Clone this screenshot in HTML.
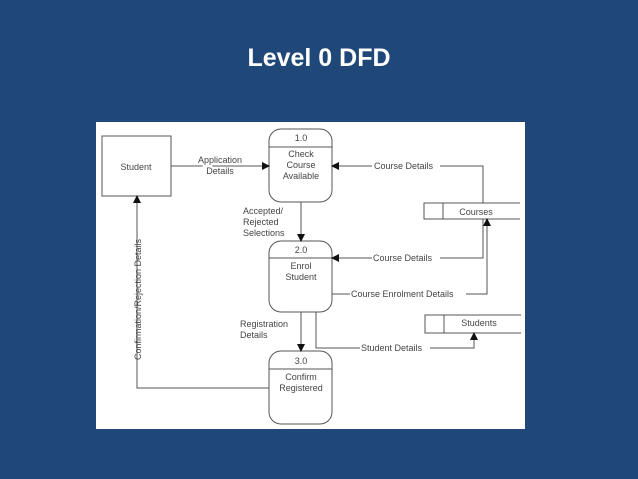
<!DOCTYPE html>
<html><head><style>
body{margin:0;width:638px;height:479px;background:#1f4878;overflow:hidden;font-family:"Liberation Sans",sans-serif}
h1{position:absolute;top:44px;left:0;width:638px;text-align:center;margin:0;color:#fff;font-size:25px;font-weight:bold}
svg{position:absolute;left:0;top:0}
text{font-family:"Liberation Sans",sans-serif;font-size:9px;fill:#444}
</style></head><body>
<h1>Level 0 DFD</h1>
<svg width="638" height="479">
<defs><marker id="a" markerWidth="8" markerHeight="8" refX="7" refY="4" orient="auto" markerUnits="userSpaceOnUse"><path d="M0,0L8,4L0,8z" fill="#111"/></marker></defs>
<rect x="96" y="122" width="429" height="307" fill="#fff"/>
<g stroke="#555" stroke-width="1" fill="none">
<rect x="102" y="136" width="69" height="60"/>
<rect x="269" y="129" width="63" height="73" rx="12"/><line x1="269" y1="147" x2="332" y2="147"/>
<rect x="269" y="241" width="63" height="71" rx="12"/><line x1="269" y1="258" x2="332" y2="258"/>
<rect x="269" y="351" width="63" height="73" rx="12"/><line x1="269" y1="369" x2="332" y2="369"/>
<path d="M520,203H424V219H520M443,203V219"/>
<path d="M521,315H425V333H521M444,315V333"/>
<path d="M171,166H269" marker-end="url(#a)"/>
<path d="M483,203V166H332" marker-end="url(#a)"/>
<path d="M483,219V258H332" marker-end="url(#a)"/>
<path d="M332,294H487V219" marker-end="url(#a)"/>
<path d="M316,312V348H474V333" marker-end="url(#a)"/>
<path d="M301,202V241" marker-end="url(#a)"/>
<path d="M301,312V351" marker-end="url(#a)"/>
<path d="M269,388H137V196" marker-end="url(#a)"/>
</g>
<g text-anchor="middle">
<text x="136" y="170">Student</text>
<text x="301" y="141">1.0</text><text x="301" y="157">Check</text><text x="301" y="168">Course</text><text x="301" y="179">Available</text>
<text x="301" y="253">2.0</text><text x="301" y="269">Enrol</text><text x="301" y="280">Student</text>
<text x="301" y="364">3.0</text><text x="301" y="380">Confirm</text><text x="301" y="391">Registered</text>
<text x="220" y="163" fill="#fff" stroke="#fff" stroke-width="4">Application</text>
<text x="220" y="163">Application</text><text x="220" y="174">Details</text>
<text x="476" y="215">Courses</text><text x="479" y="326">Students</text>
</g>
<g>
<rect x="372" y="160" width="68" height="10" fill="#fff"/><text x="374" y="169">Course Details</text>
<rect x="372" y="252" width="68" height="10" fill="#fff"/><text x="373" y="261">Course Details</text>
<rect x="350" y="288" width="116" height="10" fill="#fff"/><text x="351" y="297">Course Enrolment Details</text>
<rect x="360" y="342" width="70" height="10" fill="#fff"/><text x="361" y="351">Student Details</text>
<text x="243" y="214">Accepted/</text><text x="243" y="225">Rejected</text><text x="243" y="236">Selections</text>
<text x="240" y="327">Registration</text><text x="240" y="338">Details</text>
<text transform="translate(141,360) rotate(-90)">Confirmation/Rejection Details</text>
</g>
</svg>
</body></html>
